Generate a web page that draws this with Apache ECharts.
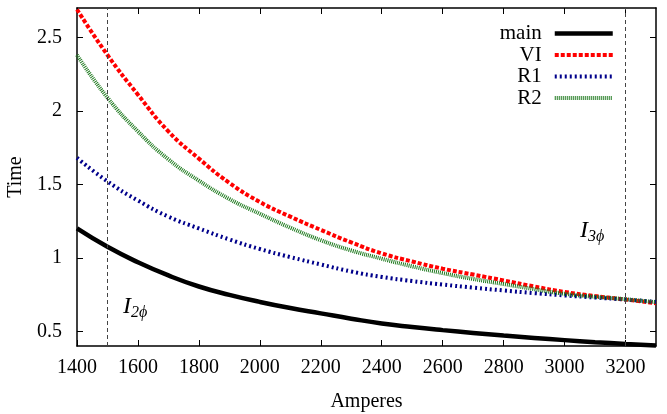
<!DOCTYPE html>
<html>
<head>
<meta charset="utf-8">
<script src="https://cdn.jsdelivr.net/npm/echarts@6/dist/echarts.min.js"></script>
<style>
  html, body { margin: 0; padding: 0; background: #fff; }
  #chart { width: 667px; height: 414px; }
</style>
</head>
<body>
<div id="chart"></div>
<script>
// current (A) and tripping time
const amps = [1400, 1500, 1600, 1700, 1800, 1900, 2000, 2100, 2200, 2300,
              2400, 2500, 2600, 2700, 2800, 2900, 3000, 3100, 3200, 3300];
const mainT = [1.20, 1.075, 0.97, 0.88, 0.805, 0.748, 0.70, 0.658, 0.622, 0.586,
               0.553, 0.529, 0.508, 0.489, 0.471, 0.455, 0.44, 0.426, 0.414, 0.403];
const viT = [2.69, 2.38, 2.11, 1.86, 1.675, 1.51, 1.38, 1.28, 1.19, 1.105,
             1.03, 0.975, 0.926, 0.886, 0.846, 0.805, 0.768, 0.74, 0.716, 0.691];
const r1T = [1.68, 1.52, 1.39, 1.28, 1.20, 1.125, 1.06, 1.005, 0.955, 0.907,
             0.87, 0.842, 0.818, 0.797, 0.778, 0.76, 0.744, 0.73, 0.716, 0.70];
const r2T = [2.38, 2.09, 1.86, 1.67, 1.525, 1.40, 1.30, 1.205, 1.12, 1.05,
             0.994, 0.942, 0.896, 0.856, 0.822, 0.787, 0.755, 0.735, 0.718, 0.698];
const xTicks = [1400, 1600, 1800, 2000, 2200, 2400, 2600, 2800, 3000, 3200];
const yTicks = [0.5, 1, 1.5, 2, 2.5];
const markers = [1500, 3200]; // I2phi, I3phi

const font = "Liberation Serif";
let chart = echarts.init(document.getElementById("chart"), null, { renderer: "canvas" });

const pairs = (ys) => amps.map((a, i) => [a, ys[i]]);

const xBase = {
  type: "value", min: 1400, max: 3300,
  axisLine: { show: true, onZero: false, lineStyle: { color: "#000", width: 1.5 } },
  axisTick: { inside: true, length: 6, customValues: xTicks, lineStyle: { color: "#000" } },
  splitLine: { show: false }
};
const yBase = {
  type: "value", min: 0.4, max: 2.7,
  axisLine: { show: true, onZero: false, lineStyle: { color: "#000", width: 1.5 } },
  axisTick: { inside: true, length: 6, customValues: yTicks, lineStyle: { color: "#000" } },
  splitLine: { show: false }
};

let option = {
  animation: false,
  backgroundColor: "#fff",
  grid: { left: 77, right: 11, top: 8, bottom: 68, outerBoundsMode: "none" },
  xAxis: [
    Object.assign({}, xBase, {
      position: "bottom",
      name: "Amperes", nameLocation: "middle", nameGap: 46,
      nameTextStyle: { fontFamily: font, fontSize: 20, color: "#000" },
      axisLabel: {
        customValues: xTicks, margin: 12, fontFamily: font, fontSize: 20, color: "#000",
        formatter: (v) => String(v)
      }
    }),
    Object.assign({}, xBase, { position: "top", axisLabel: { show: false } })
  ],
  yAxis: [
    Object.assign({}, yBase, {
      position: "left",
      name: "Time", nameLocation: "middle", nameGap: 40,
      nameTextStyle: { fontFamily: font, fontSize: 20, color: "#000" },
      axisLabel: {
        customValues: yTicks, margin: 15, fontFamily: font, fontSize: 20, color: "#000",
        formatter: (v) => String(v)
      }
    }),
    Object.assign({}, yBase, { position: "right", axisLabel: { show: false } })
  ],
  legend: {
    orient: "vertical", right: 47, top: 18, align: "right",
    itemWidth: 58, itemHeight: 10, itemGap: 0.5,
    itemStyle: { opacity: 0 },
    lineStyle: { width: "inherit" },
    textStyle: { fontFamily: font, fontSize: 21, color: "#000", padding: [0, 8, 0, 0] },
    data: ["main", "VI", "R1", "R2"]
  },
  series: [
    {
      name: "main", type: "line", data: pairs(mainT), smooth: true, symbol: "none",
      lineStyle: { color: "#000", width: 4.5 }, itemStyle: { color: "#000" },
      markLine: {
        silent: true, symbol: "none", label: { show: false },
        lineStyle: { color: "#444", width: 1, type: [4, 3] },
        data: markers.map((m) => ({ xAxis: m }))
      }
    },
    {
      name: "VI", type: "line", data: pairs(viT), smooth: true, symbol: "none",
      lineStyle: { color: "#ff0000", width: 4, type: [4, 2] }, itemStyle: { color: "#ff0000" }
    },
    {
      name: "R1", type: "line", data: pairs(r1T), smooth: true, symbol: "none",
      lineStyle: { color: "#00008b", width: 4, type: [2, 3] }, itemStyle: { color: "#00008b" }
    },
    {
      name: "R2", type: "line", data: pairs(r2T), smooth: true, symbol: "none",
      lineStyle: { color: "#1f7a1f", width: 4, type: [1, 1] }, itemStyle: { color: "#1f7a1f" }
    }
  ],
  graphic: [
    {
      type: "text", left: 123, top: 295,
      style: {
        text: "{i|I}{s|2\u03d5}",
        rich: {
          i: { fontFamily: font, fontStyle: "italic", fontSize: 24, color: "#000" },
          s: { fontFamily: font, fontStyle: "italic", fontSize: 16, color: "#000", padding: [11, 0, 0, 0] }
        }
      }
    },
    {
      type: "text", left: 580, top: 219,
      style: {
        text: "{i|I}{s|3\u03d5}",
        rich: {
          i: { fontFamily: font, fontStyle: "italic", fontSize: 24, color: "#000" },
          s: { fontFamily: font, fontStyle: "italic", fontSize: 16, color: "#000", padding: [11, 0, 0, 0] }
        }
      }
    }
  ]
};
option && chart.setOption(option);
</script>
</body>
</html>
